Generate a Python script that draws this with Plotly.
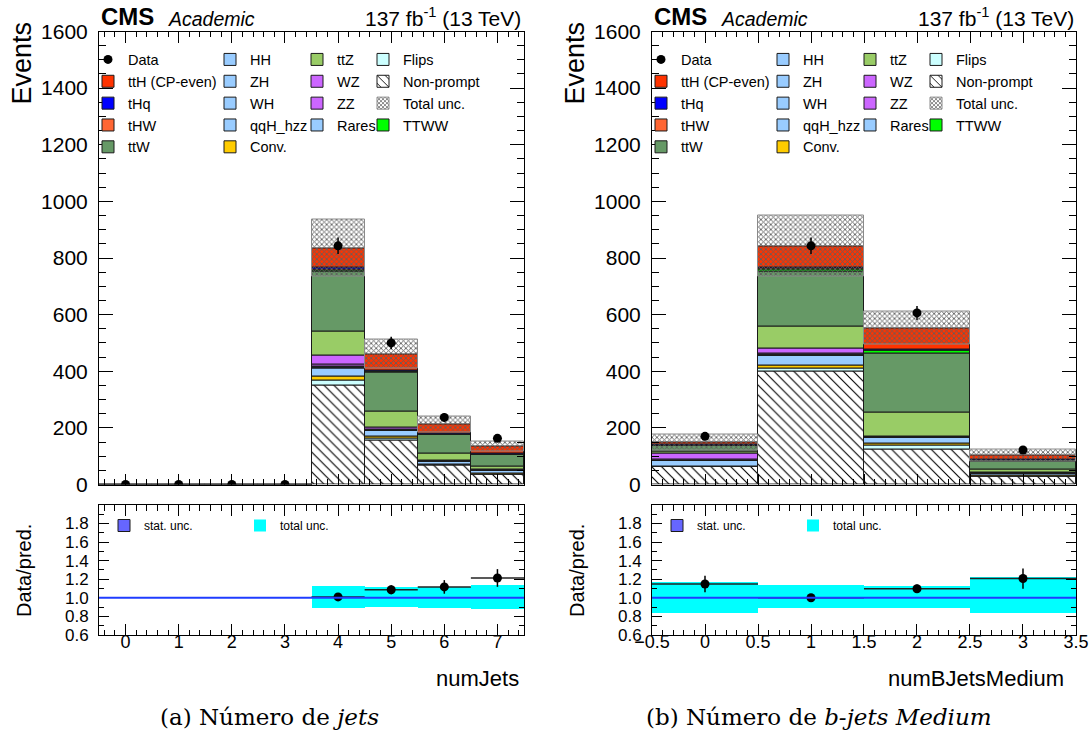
import numpy as np
import plotly.graph_objects as go

W, H = 1089, 738
nan = float("nan")

# ---------------- number of jets (bins 0..7) ----------------
nj_bins      = [0, 1, 2, 3, 4, 5, 6, 7]
nj_nonprompt = [0, 0, 0, 0, 348, 157, 66, 34]
nj_flips     = [0, 0, 0, 0, 20, 6, 3, 2]
nj_conv      = [0, 0, 0, 0, 13, 7, 3, 2]
nj_rares     = [0, 0, 0, 0, 30, 20, 10, 12]
nj_hh        = [0, 0, 0, 0, 1.0, 0.5, 0.3, 0.2]
nj_zh        = [0, 0, 0, 0, 2.0, 1.0, 0.5, 0.3]
nj_wh        = [0, 0, 0, 0, 2.0, 1.0, 0.5, 0.3]
nj_qqh_hzz   = [0, 0, 0, 0, 1.0, 0.5, 0.3, 0.2]
nj_zz        = [0, 0, 0, 0, 6, 2, 0.5, 0.3]
nj_wz        = [0, 0, 0, 0, 31, 7, 2, 1]
nj_ttz       = [0, 0, 0, 0, 85, 55, 25, 11]
nj_ttw       = [0, 0, 0, 0, 212, 138, 64, 41]
nj_ttww      = [0, 0, 0, 0, 6, 3, 2, 2]
nj_thw       = [0, 0, 0, 0, 4, 2, 1, 1]
nj_thq       = [0, 0, 0, 0, 7, 3, 3, 3]
nj_tth       = [0, 0, 0, 0, 67, 57, 31, 24]
nj_unc       = [0, 0, 0, 0, 100, 52, 27, 17]
nj_data      = [0, 0, 0, 0, 843, 500, 237, 163]
nj_data_err  = [0, 0, 0, 0, 29, 22, 15.5, 12.8]
nj_stat_rel  = [nan, nan, nan, nan, 0.002, 0.002, 0.002, 0.002]
nj_band_lo   = [nan, nan, nan, nan, 0.887, 0.898, 0.887, 0.879]
nj_band_hi   = [nan, nan, nan, nan, 1.125, 1.113, 1.113, 1.143]

# ---------------- number of medium b-jets (bins 0..3) ----------------
nb_bins      = [0, 1, 2, 3]
nb_nonprompt = [63, 398, 124, 29]
nb_flips     = [1, 12, 14.5, 1]
nb_conv      = [1, 10, 5.5, 1]
nb_rares     = [19, 35, 22, 9]
nb_hh        = [0.3, 1.0, 0.7, 0.2]
nb_zh        = [0.5, 1.2, 1.0, 0.3]
nb_wh        = [0.5, 1.2, 1.0, 0.3]
nb_qqh_hzz   = [0.2, 0.6, 0.3, 0.2]
nb_zz        = [4.5, 4, 0.5, 0.2]
nb_wz        = [20, 17, 1, 0.3]
nb_ttz       = [6, 77, 83, 11.5]
nb_ttw       = [20, 197, 209.5, 29]
nb_ttww      = [1, 7, 9.6, 3]
nb_thw       = [1, 3, 2, 1]
nb_thq       = [2, 4, 3, 2]
nb_tth       = [8, 74, 74.4, 13]
nb_unc       = [27, 108, 58, 21]
nb_data      = [170, 843, 606, 122]
nb_data_err  = [13, 29, 24.6, 11]
nb_stat_rel  = [0.002, 0.002, 0.002, 0.002]
nb_band_lo   = [0.842, 0.887, 0.894, 0.838]
nb_band_hi   = [1.170, 1.136, 1.130, 1.219]

# sample styling, stacked from bottom to top: (label, colour, legend column, rank)
SAMPLES = [
    ("Non-prompt",    "white",   4, 2),
    ("Flips",         "#ccffff", 4, 1),
    ("Conv.",         "#ffcc00", 2, 5),
    ("Rares",         "#99ccff", 3, 4),
    ("HH",            "#99ccff", 2, 1),
    ("ZH",            "#99ccff", 2, 2),
    ("WH",            "#99ccff", 2, 3),
    ("qqH_hzz",       "#99ccff", 2, 4),
    ("ZZ",            "#cc66ff", 3, 3),
    ("WZ",            "#cc66ff", 3, 2),
    ("ttZ",           "#99cc66", 3, 1),
    ("ttW",           "#669966", 1, 5),
    ("TTWW",          "#00ff00", 4, 4),
    ("tHW",           "#ff6633", 1, 4),
    ("tHq",           "#0000ff", 1, 3),
    ("ttH (CP-even)", "#ff3300", 1, 2),
]

nj_stack = [nj_nonprompt, nj_flips, nj_conv, nj_rares, nj_hh, nj_zh, nj_wh, nj_qqh_hzz,
            nj_zz, nj_wz, nj_ttz, nj_ttw, nj_ttww, nj_thw, nj_thq, nj_tth]
nb_stack = [nb_nonprompt, nb_flips, nb_conv, nb_rares, nb_hh, nb_zh, nb_wh, nb_qqh_hzz,
            nb_zz, nb_wz, nb_ttz, nb_ttw, nb_ttww, nb_thw, nb_thq, nb_tth]

FONT = "Liberation Sans, Arial, sans-serif"


def px(x):
    return x / W


def py(y):
    return 1 - y / H


fig = go.Figure()


def add_panel(bins, stack, unc, data, data_err, stat_rel, band_lo, band_hi,
              xm, ym, xr, yr, legs, rleg):
    bins = np.array(bins, dtype=float)
    base = np.zeros(len(bins))
    for (label, color, col, rank), vals in zip(SAMPLES, stack):
        vals = np.array(vals, dtype=float)
        marker = dict(color=color, line=dict(color="#1a1a1a", width=1))
        if label == "Non-prompt":
            marker["pattern"] = dict(shape="\\", fgcolor="black", bgcolor="white",
                                     size=7, solidity=0.16)
        fig.add_trace(go.Bar(
            x=bins, y=vals, base=base.copy(), width=1, name=label,
            marker=marker, xaxis=xm, yaxis=ym,
            legend=legs[col - 1], legendrank=rank,
        ))
        base = base + vals
    total = base
    unc = np.array(unc, dtype=float)
    fig.add_trace(go.Bar(
        x=bins, y=2 * unc, base=total - unc, width=1, name="Total unc.",
        marker=dict(color="rgba(0,0,0,0)", line=dict(color="#8a8a8a", width=1),
                    pattern=dict(shape="x", fgcolor="#5e5e5e",
                                 bgcolor="rgba(255,255,255,0)", size=3.5, solidity=0.45)),
        xaxis=xm, yaxis=ym, legend=legs[3], legendrank=3,
    ))
    fig.add_trace(go.Scatter(
        x=bins, y=data, mode="markers", name="Data",
        marker=dict(color="black", size=9, symbol="circle"),
        error_y=dict(type="data", array=data_err, color="black", thickness=1.5, width=0),
        xaxis=xm, yaxis=ym, legend=legs[0], legendrank=1,
    ))

    # ratio pad
    lo = np.array(band_lo, dtype=float)
    hi = np.array(band_hi, dtype=float)
    fig.add_trace(go.Bar(
        x=bins, y=hi - lo, base=lo, width=1, name="total unc.",
        marker=dict(color="#00ffff", line=dict(width=0)),
        xaxis=xr, yaxis=yr, legend=rleg[1],
    ))
    s = np.array(stat_rel, dtype=float)
    fig.add_trace(go.Bar(
        x=bins, y=2 * s, base=1 - s, width=1, name="stat. unc.",
        marker=dict(color="#6666ff", line=dict(color="#1a1a1a", width=1)),
        xaxis=xr, yaxis=yr, legend=rleg[0],
    ))
    d = np.array(data, dtype=float)
    de = np.array(data_err, dtype=float)
    with np.errstate(divide="ignore", invalid="ignore"):
        ratio = np.where(total > 0, d / total, np.nan)
        ratio_err = np.where(total > 0, de / total, np.nan)
    fig.add_trace(go.Scatter(
        x=bins, y=ratio, mode="markers", showlegend=False,
        marker=dict(color="black", size=9),
        error_y=dict(type="data", array=ratio_err, color="black", thickness=1.5, width=0),
        error_x=dict(type="data", array=[0.5] * len(bins), color="#222222",
                     thickness=1.5, width=0),
        xaxis=xr, yaxis=yr,
    ))


add_panel(nj_bins, nj_stack, nj_unc, nj_data, nj_data_err, nj_stat_rel, nj_band_lo,
          nj_band_hi, "x", "y", "x2", "y2",
          ["legend", "legend2", "legend3", "legend4"], ["legend9", "legend10"])
add_panel(nb_bins, nb_stack, nb_unc, nb_data, nb_data_err, nb_stat_rel, nb_band_lo,
          nb_band_hi, "x3", "y3", "x4", "y4",
          ["legend5", "legend6", "legend7", "legend8"], ["legend11", "legend12"])

# frame geometry in pixels
L_X0, L_X1 = 99, 524
R_X0, R_X1 = 652, 1076
M_Y0, M_Y1 = 31.5, 484.5
Q_Y0, Q_Y1 = 505, 635

common = dict(showline=True, linecolor="black", linewidth=1, mirror="ticks",
              ticks="inside", tickcolor="black", tickwidth=1, showgrid=False,
              zeroline=False, automargin=False)


def xaxis(x0, x1, rng, tick0, dtick, mtick, anchor, labels):
    return dict(common, domain=[px(x0), px(x1)], range=rng, anchor=anchor,
                tickmode="linear", tick0=tick0, dtick=dtick, ticklen=11,
                tickfont=dict(family=FONT, size=18, color="black"),
                minor=dict(ticks="inside", ticklen=5.5, tickcolor="black",
                           tick0=tick0, dtick=mtick),
                showticklabels=labels, ticklabelstandoff=-10)


def yaxis(y0, y1, rng, tick0, dtick, mtick, anchor, fmt, tl, mtl, fsize):
    return dict(common, domain=[py(y1), py(y0)], range=rng, anchor=anchor,
                tickmode="linear", tick0=tick0, dtick=dtick, ticklen=tl,
                tickformat=fmt,
                tickfont=dict(family=FONT, size=fsize, color="black"),
                minor=dict(ticks="inside", ticklen=mtl, tickcolor="black",
                           tick0=tick0, dtick=mtick),
                ticklabelstandoff=6)


fig.update_layout(
    xaxis=xaxis(L_X0, L_X1, [-0.5, 7.5], 0, 1, 0.2, "y", False),
    yaxis=yaxis(M_Y0, M_Y1, [0, 1600], 0, 200, 50, "x", "d", 14, 7, 21),
    xaxis2=xaxis(L_X0, L_X1, [-0.5, 7.5], 0, 1, 0.2, "y2", True),
    yaxis2=yaxis(Q_Y0, Q_Y1, [0.6, 1.999], 0.6, 0.2, 0.1, "x2", ".1f", 10, 5, 17),
    xaxis3=xaxis(R_X0, R_X1, [-0.5, 3.5], -0.5, 0.5, 0.1, "y3", False),
    yaxis3=yaxis(M_Y0, M_Y1, [0, 1600], 0, 200, 50, "x3", "d", 14, 7, 21),
    xaxis4=xaxis(R_X0, R_X1, [-0.5, 3.5001], -0.5, 0.5, 0.1, "y4", True),
    yaxis4=yaxis(Q_Y0, Q_Y1, [0.6, 1.999], 0.6, 0.2, 0.1, "x4", ".1f", 10, 5, 17),
)

# unity line in both ratio pads
for xr, yr in (("x2", "y2"), ("x4", "y4")):
    fig.add_shape(type="line", xref=f"{xr} domain", yref=yr, x0=0, x1=1, y0=1, y1=1,
                  line=dict(color="#1f3cff", width=2), layer="above")

# legends: four columns per main pad, two entries per ratio pad
leg_style = dict(bgcolor="rgba(0,0,0,0)", borderwidth=0, xanchor="left",
                 yanchor="top", itemwidth=30, traceorder="normal",
                 font=dict(family=FONT, size=14.5, color="black"),
                 itemclick=False, itemdoubleclick=False)
col_text_x = [128, 250, 337, 403]
legends = {}
for i, tx in enumerate(col_text_x):
    for off, start in ((0, 1), (553, 5)):
        name = "legend" if start + i == 1 else f"legend{start + i}"
        legends[name] = dict(leg_style, x=px(tx - 40 + off), y=py(43.5))
r_style = dict(leg_style, font=dict(family=FONT, size=12, color="black"))
for off, names in ((0, ("legend9", "legend10")), (553, ("legend11", "legend12"))):
    legends[names[0]] = dict(r_style, x=px(104 + off), y=py(511))
    legends[names[1]] = dict(r_style, x=px(240 + off), y=py(511))
fig.update_layout(**legends)

ann = []
for off in (0, 553):
    ann += [
        dict(text="Events", x=px(21 + off), y=py(20), xanchor="center", yanchor="top",
             textangle=-90, font=dict(family=FONT, size=27, color="black")),
        dict(text="Data/pred.", x=px(24 + off), y=py(571), xanchor="center",
             yanchor="middle", textangle=-90, font=dict(family=FONT, size=20, color="black")),
        dict(text="<b>CMS</b>", x=px(99 + off), y=py(17), xanchor="left", yanchor="middle",
             font=dict(family=FONT, size=24, color="black")),
        dict(text="<i>Academic</i>", x=px(166 + off), y=py(18.5), xanchor="left",
             yanchor="middle", font=dict(family=FONT, size=19.5, color="black")),
        dict(text="137 fb<sup>-1</sup> (13 TeV)", x=px(523 + off), y=py(17),
             xanchor="right", yanchor="middle", font=dict(family=FONT, size=21, color="black")),
    ]
ann += [
    dict(text="numJets", x=px(521), y=py(678), xanchor="right", yanchor="middle",
         font=dict(family=FONT, size=22, color="black")),
    dict(text="numBJetsMedium", x=px(1066), y=py(678), xanchor="right", yanchor="middle",
         font=dict(family=FONT, size=22, color="black")),
    dict(text="(a) Número de <i>jets</i>", x=px(269), y=py(717), xanchor="center",
         yanchor="middle", font=dict(family="DejaVu Serif, serif", size=23, color="black")),
    dict(text="(b) Número de <i>b-jets Medium</i>", x=px(819), y=py(717), xanchor="center",
         yanchor="middle", font=dict(family="DejaVu Serif, serif", size=23, color="black")),
]
for a in ann:
    a.update(xref="paper", yref="paper", showarrow=False)
fig.update_layout(annotations=ann)

fig.update_layout(
    width=W, height=H, margin=dict(l=0, r=0, t=0, b=0, pad=0),
    paper_bgcolor="white", plot_bgcolor="white", template="none",
    barmode="overlay", bargap=0, showlegend=True, hovermode=False,
    font=dict(family=FONT, color="black"),
)

fig.write_html("out.html")
